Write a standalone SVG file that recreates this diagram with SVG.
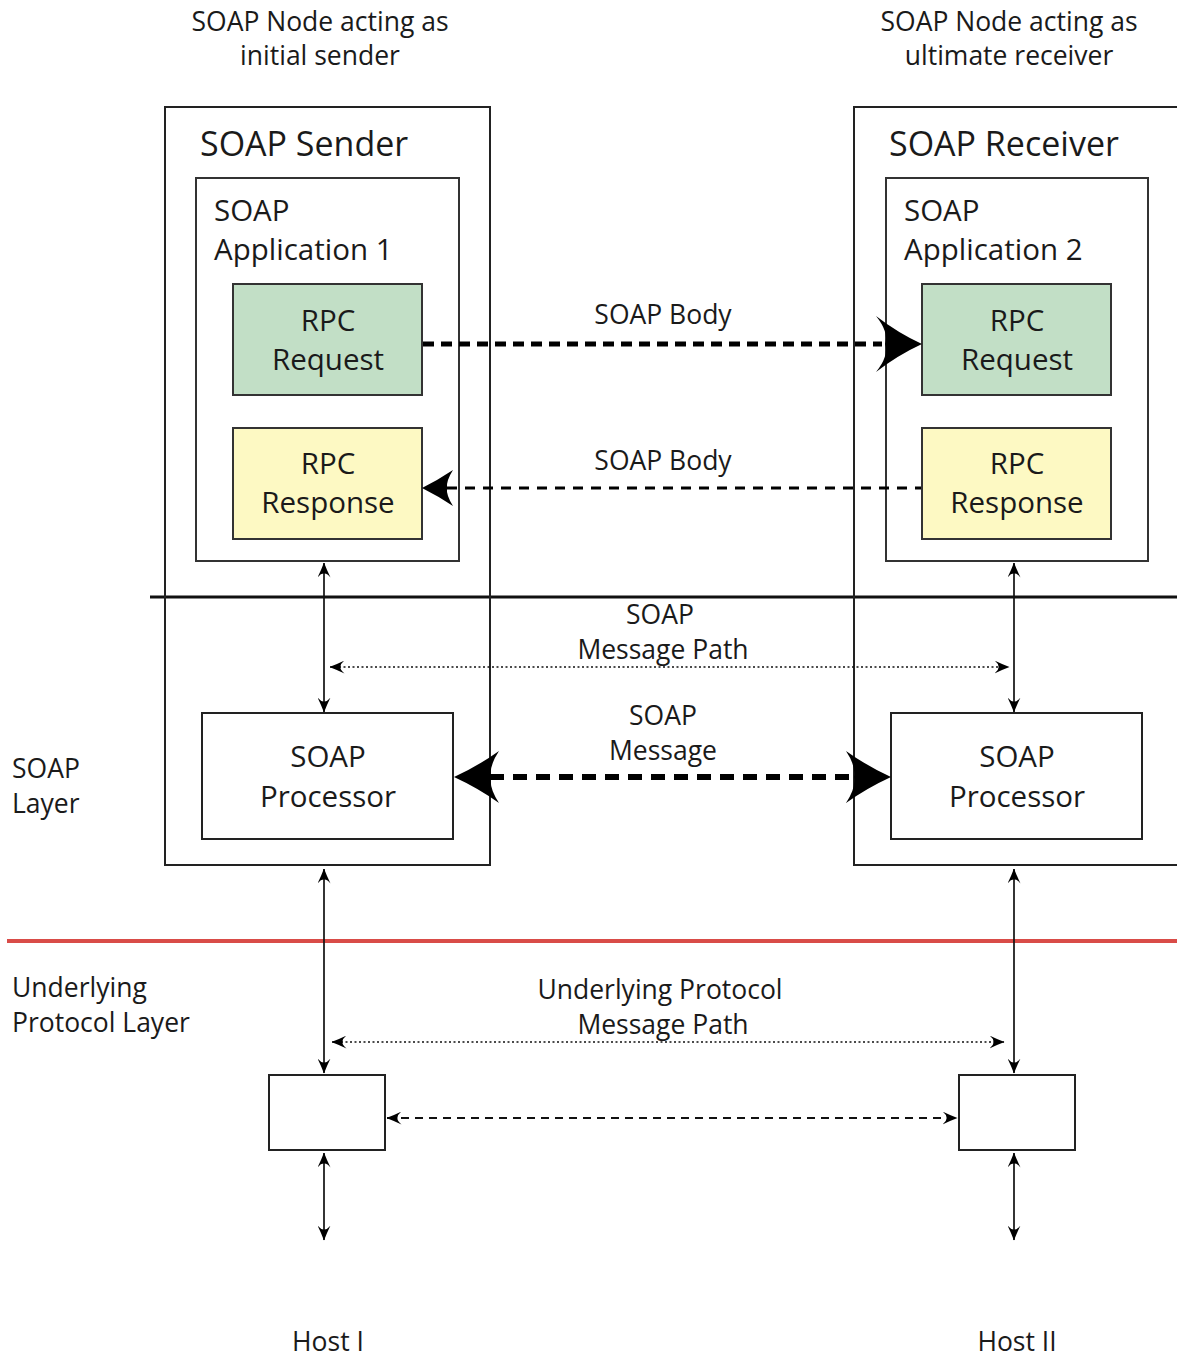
<svg xmlns="http://www.w3.org/2000/svg" width="1177" height="1359" viewBox="0 0 1177 1359">
  <style>
    text { font-family: "Open Sans", "Noto Sans", "DejaVu Sans", sans-serif; fill: #1a1a1a; }
    .t24 { font-size: 26.5px; }
    .t26 { font-size: 29.5px; }
    .t30 { font-size: 34px; }
    .mid { text-anchor: middle; }
    .frame { fill: none; stroke: #222222; stroke-width: 2; }
    .app { fill: #ffffff; stroke: #333333; stroke-width: 2; }
    .req { fill: #c2dfc6; stroke: #333333; stroke-width: 2; }
    .resp { fill: #fdf9c3; stroke: #333333; stroke-width: 2; }
    .box { fill: #ffffff; stroke: #222222; stroke-width: 2; }
    .thin { fill: none; stroke: #111111; stroke-width: 1.7; }
    .dot { fill: none; stroke: #111111; stroke-width: 1.7; stroke-dasharray: 2 2.5; }
    .dash { fill: none; stroke: #111111; stroke-width: 1.9; stroke-dasharray: 8 6; }
    .head { fill: #000000; }
  </style>
  <defs>
    <!-- small swept-back arrowhead shared by the thin connectors -->
    <marker id="tip" viewBox="0 0 15 13" refX="14.5" refY="6.5" markerWidth="15" markerHeight="13" markerUnits="userSpaceOnUse" orient="auto-start-reverse">
      <path d="M15,6.5 Q7,3.5 0,0 Q4.5,3.5 4,6.5 Q4.5,9.5 0,13 Q7,9.5 15,6.5 Z" fill="#000000"/>
    </marker>
  </defs>

  <rect width="1177" height="1359" fill="#ffffff"/>

  <!-- layer separators -->
  <line x1="150" y1="597" x2="1177" y2="597" stroke="#111111" stroke-width="3"/>
  <line x1="7" y1="941" x2="1177" y2="941" stroke="#d94c48" stroke-width="4"/>

  <!-- sending node -->
  <g id="soap-sender">
    <rect class="frame" x="165" y="107" width="325" height="758"/>
    <text class="t30" x="200" y="156">SOAP Sender</text>
  </g>
  <g id="soap-application-1">
    <rect class="app" x="196" y="178" width="263" height="383"/>
    <text class="t26" x="214" y="221">SOAP</text>
    <text class="t26" x="214" y="260">Application 1</text>
  </g>
  <g id="rpc-request-1">
    <rect class="req" x="233" y="284" width="189" height="111"/>
    <text class="t26 mid" x="328" y="331">RPC</text>
    <text class="t26 mid" x="328" y="370">Request</text>
  </g>
  <g id="rpc-response-1">
    <rect class="resp" x="233" y="428" width="189" height="111"/>
    <text class="t26 mid" x="328" y="474">RPC</text>
    <text class="t26 mid" x="328" y="513">Response</text>
  </g>
  <g id="soap-processor-1">
    <rect class="box" x="202" y="713" width="251" height="126"/>
    <text class="t26 mid" x="328" y="767">SOAP</text>
    <text class="t26 mid" x="328" y="807">Processor</text>
  </g>

  <!-- receiving node -->
  <g id="soap-receiver">
    <rect class="frame" x="854" y="107" width="330" height="758"/>
    <text class="t30" x="889" y="156">SOAP Receiver</text>
  </g>
  <g id="soap-application-2">
    <rect class="app" x="886" y="178" width="262" height="383"/>
    <text class="t26" x="904" y="221">SOAP</text>
    <text class="t26" x="904" y="260">Application 2</text>
  </g>
  <g id="rpc-request-2">
    <rect class="req" x="922" y="284" width="189" height="111"/>
    <text class="t26 mid" x="1017" y="331">RPC</text>
    <text class="t26 mid" x="1017" y="370">Request</text>
  </g>
  <g id="rpc-response-2">
    <rect class="resp" x="922" y="428" width="189" height="111"/>
    <text class="t26 mid" x="1017" y="474">RPC</text>
    <text class="t26 mid" x="1017" y="513">Response</text>
  </g>
  <g id="soap-processor-2">
    <rect class="box" x="891" y="713" width="251" height="126"/>
    <text class="t26 mid" x="1017" y="767">SOAP</text>
    <text class="t26 mid" x="1017" y="807">Processor</text>
  </g>

  <!-- transport endpoints -->
  <g id="host-1-port">
    <rect class="box" x="269" y="1075" width="116" height="75"/>
  </g>
  <g id="host-2-port">
    <rect class="box" x="959" y="1075" width="116" height="75"/>
  </g>

  <!-- free labels -->
  <g id="labels">
    <text class="t24 mid" x="320" y="31">SOAP Node acting as</text>
    <text class="t24 mid" x="320" y="65">initial sender</text>
    <text class="t24 mid" x="1009" y="31">SOAP Node acting as</text>
    <text class="t24 mid" x="1009" y="65">ultimate receiver</text>
    <text class="t24 mid" x="663" y="324">SOAP Body</text>
    <text class="t24 mid" x="663" y="470">SOAP Body</text>
    <text class="t24 mid" x="660" y="624">SOAP</text>
    <text class="t24 mid" x="663" y="659">Message Path</text>
    <text class="t24 mid" x="663" y="725">SOAP</text>
    <text class="t24 mid" x="663" y="760">Message</text>
    <text class="t24" x="12" y="778">SOAP</text>
    <text class="t24" x="12" y="813">Layer</text>
    <text class="t24" x="12" y="997">Underlying</text>
    <text class="t24" x="12" y="1032">Protocol Layer</text>
    <text class="t24 mid" x="660" y="999">Underlying Protocol</text>
    <text class="t24 mid" x="663" y="1034">Message Path</text>
    <text class="t24 mid" x="328" y="1351">Host I</text>
    <text class="t24 mid" x="1017" y="1351">Host II</text>
  </g>

  <!-- connectors -->
  <g id="connectors">
    <!-- SOAP Body request / response -->
    <line x1="423" y1="344" x2="882" y2="344" stroke="#000000" stroke-width="5" stroke-dasharray="11 7"/>
    <path class="head" d="M922,344 Q898,333 876,316 Q889,332 885,344 Q889,356 876,372 Q898,355 922,344 Z"/>
    <line x1="447" y1="488" x2="921" y2="488" stroke="#000000" stroke-width="3" stroke-dasharray="10 8"/>
    <path class="head" d="M422,488 Q438,480 453,470 Q446,481 447,488 Q446,495 453,506 Q438,496 422,488 Z"/>

    <!-- SOAP Message between processors -->
    <line x1="490" y1="777" x2="855" y2="777" stroke="#000000" stroke-width="6" stroke-dasharray="14 9"/>
    <path class="head" d="M454,777 Q478,766 499,751 Q489,766 491,777 Q489,788 499,803 Q478,788 454,777 Z"/>
    <path class="head" d="M891,777 Q867,766 846,751 Q856,766 854,777 Q856,788 846,803 Q867,788 891,777 Z"/>

    <!-- application to processor -->
    <line class="thin" x1="324" y1="563" x2="324" y2="712" marker-start="url(#tip)" marker-end="url(#tip)"/>
    <line class="thin" x1="1014" y1="563" x2="1014" y2="712" marker-start="url(#tip)" marker-end="url(#tip)"/>

    <!-- SOAP message path -->
    <line class="dot" x1="330" y1="667" x2="1009" y2="667" marker-start="url(#tip)" marker-end="url(#tip)"/>

    <!-- processor to transport -->
    <line class="thin" x1="324" y1="869" x2="324" y2="1073" marker-start="url(#tip)" marker-end="url(#tip)"/>
    <line class="thin" x1="1014" y1="869" x2="1014" y2="1073" marker-start="url(#tip)" marker-end="url(#tip)"/>

    <!-- underlying protocol message path -->
    <line class="dot" x1="332" y1="1042" x2="1004" y2="1042" marker-start="url(#tip)" marker-end="url(#tip)"/>

    <!-- transport to transport -->
    <line class="dash" x1="387" y1="1118" x2="957" y2="1118" marker-start="url(#tip)" marker-end="url(#tip)"/>

    <!-- transport to host -->
    <line class="thin" x1="324" y1="1153" x2="324" y2="1240" marker-start="url(#tip)" marker-end="url(#tip)"/>
    <line class="thin" x1="1014" y1="1153" x2="1014" y2="1240" marker-start="url(#tip)" marker-end="url(#tip)"/>
  </g>
</svg>
